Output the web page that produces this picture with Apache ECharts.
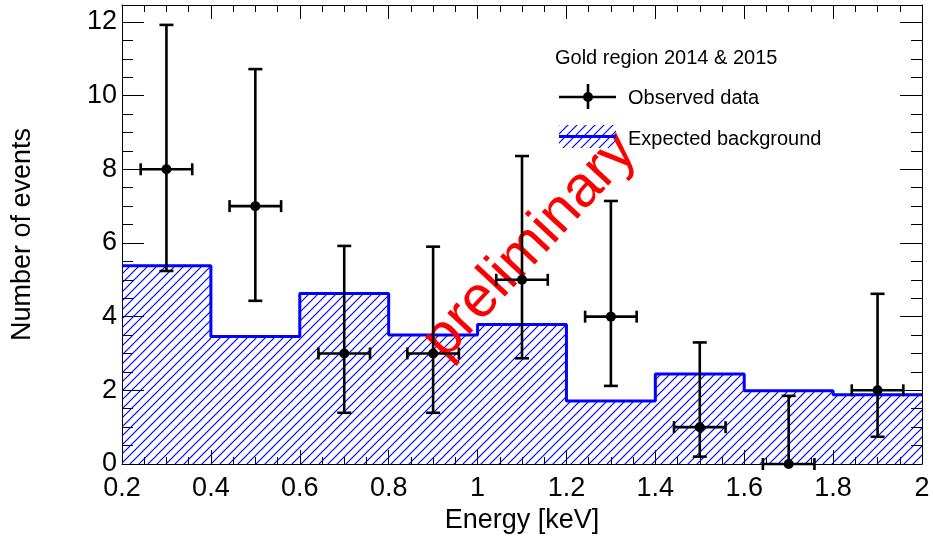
<!DOCTYPE html>
<html>
<head>
<meta charset="utf-8">
<script src="https://cdn.jsdelivr.net/npm/echarts@6/dist/echarts.min.js"></script>
<style>
html,body{margin:0;padding:0;background:#fff;}
#chart{width:933px;height:542px;}
</style>
</head>
<body>
<div id="chart"></div>
<script>
// ---- data ----
const binEdges = [0.2, 0.4, 0.6, 0.8, 1.0, 1.2, 1.4, 1.6, 1.8, 2.0];
const bgCounts = [5.38, 3.46, 4.63, 3.50, 3.79, 1.71, 2.44, 1.99, 1.88];
const obsEnergy = [0.3, 0.5, 0.7, 0.9, 1.1, 1.3, 1.5, 1.7, 1.9];
const obsCounts = [8, 7, 3, 3, 5, 4, 1, 0, 2];
const obsLower = [5.24, 4.43, 1.39, 1.39, 2.87, 2.12, 0.20, 0.00, 0.74];
const obsUpper = [11.92, 10.72, 5.92, 5.90, 8.36, 7.14, 3.30, 1.85, 4.62];
const energyHalfWidth = [0.058, 0.058, 0.058, 0.058, 0.058, 0.058, 0.058, 0.058, 0.058];
const xTitle = 'Energy [keV]';
const yTitle = 'Number of events';
const legendHeader = 'Gold region 2014 & 2015';
const obsName = 'Observed data';
const bgName = 'Expected background';
const watermark = 'preliminary';

const FONT = "'Liberation Sans', Arial, Helvetica, sans-serif";

function hatch() {
  const s = 9;
  const c = document.createElement('canvas');
  c.width = s; c.height = s;
  const g = c.getContext('2d');
  g.strokeStyle = '#0000ff';
  g.lineWidth = 1.2;
  g.beginPath();
  g.moveTo(-1, s + 1); g.lineTo(s + 1, -1);
  g.moveTo(-2, 2); g.lineTo(2, -2);
  g.moveTo(s - 2, s + 2); g.lineTo(s + 2, s - 2);
  g.stroke();
  return c;
}
const hatchPattern = { image: hatch(), repeat: 'repeat' };

const histData = bgCounts.map((c, i) => [binEdges[i], c]);
histData.push([binEdges[binEdges.length - 1], bgCounts[bgCounts.length - 1]]);

const obsData = obsEnergy.map((x, i) => [x, obsCounts[i], energyHalfWidth[i], obsLower[i], obsUpper[i]]);

const chart = echarts.init(document.getElementById('chart'), null, { renderer: 'canvas' });

const xAxisCommon = {
  type: 'value', min: 0.2, max: 2.0, interval: 0.2,
  axisLine: { show: true, onZero: false, lineStyle: { color: '#000', width: 1 } },
  axisTick: { show: true, inside: true, length: 14, lineStyle: { color: '#000', width: 1 } },
  minorTick: { show: true, splitNumber: 4, length: 7, lineStyle: { color: '#000', width: 1 } },
  splitLine: { show: false }
};
const yAxisCommon = {
  type: 'value', min: 0, max: 12.46, interval: 2,
  axisLine: { show: true, onZero: false, lineStyle: { color: '#000', width: 1 } },
  axisTick: { show: true, inside: true, length: 22, lineStyle: { color: '#000', width: 1 } },
  minorTick: { show: true, splitNumber: 4, length: 11, lineStyle: { color: '#000', width: 1 } },
  splitLine: { show: false }
};

const option = {
  animation: false,
  backgroundColor: '#fff',
  grid: { left: 122, right: 11, top: 5, bottom: 78, containLabel: false },
  xAxis: [
    Object.assign({}, xAxisCommon, {
      position: 'bottom',
      name: xTitle, nameLocation: 'middle', nameGap: 40,
      nameTextStyle: { fontFamily: FONT, fontSize: 27, color: '#000' },
      axisLabel: { show: true, margin: 11, fontFamily: FONT, fontSize: 27, color: '#000' }
    }),
    Object.assign({}, xAxisCommon, { position: 'top', axisLabel: { show: false } })
  ],
  yAxis: [
    Object.assign({}, yAxisCommon, {
      position: 'left',
      name: yTitle, nameLocation: 'middle', nameGap: 86,
      nameTextStyle: { fontFamily: FONT, fontSize: 27, color: '#000' },
      axisLabel: { show: true, margin: 5, fontFamily: FONT, fontSize: 27, color: '#000', showMaxLabel: false,
        formatter: v => (Math.abs(v / 2 - Math.round(v / 2)) < 1e-6 ? String(Math.round(v)) : '') }
    }),
    Object.assign({}, yAxisCommon, { position: 'right', axisLabel: { show: false } })
  ],
  series: [
    {
      name: bgName, type: 'line', step: 'end', data: histData,
      xAxisIndex: 0, yAxisIndex: 0, symbol: 'none', z: 2,
      lineStyle: { color: '#0000ff', width: 3 },
      areaStyle: { color: hatchPattern, opacity: 1, origin: 'start' }
    },
    {
      name: obsName, type: 'custom', data: obsData, xAxisIndex: 0, yAxisIndex: 0, z: 5,
      encode: { x: 0, y: 1 },
      renderItem: function (params, api) {
        const x = api.value(0), y = api.value(1), ex = api.value(2), lo = api.value(3), hi = api.value(4);
        const c = api.coord([x, y]);
        const pLo = api.coord([x, lo]);
        const pHi = api.coord([x, hi]);
        const pL = api.coord([x - ex, y]);
        const pR = api.coord([x + ex, y]);
        const st = { stroke: '#000', lineWidth: 2.6, fill: null };
        const capW = 7, capH = 6;
        const children = [
          { type: 'line', shape: { x1: c[0], y1: pLo[1], x2: c[0], y2: pHi[1] }, style: st },
          { type: 'line', shape: { x1: pL[0], y1: c[1], x2: pR[0], y2: c[1] }, style: st },
          { type: 'line', shape: { x1: pL[0], y1: c[1] - capH, x2: pL[0], y2: c[1] + capH }, style: st },
          { type: 'line', shape: { x1: pR[0], y1: c[1] - capH, x2: pR[0], y2: c[1] + capH }, style: st },
          { type: 'circle', shape: { cx: c[0], cy: c[1], r: 5 }, style: { fill: '#000' } }
        ];
        if (hi > y) children.push({ type: 'line', shape: { x1: c[0] - capW, y1: pHi[1], x2: c[0] + capW, y2: pHi[1] }, style: st });
        if (lo < y) children.push({ type: 'line', shape: { x1: c[0] - capW, y1: pLo[1], x2: c[0] + capW, y2: pLo[1] }, style: st });
        return { type: 'group', children: children };
      }
    }
  ],
  graphic: [
    { type: 'text', z: 3, x: 530, y: 246, rotation: 47 * Math.PI / 180,
      style: { text: watermark, fill: '#ff0000', font: '58px ' + FONT, textAlign: 'center', textVerticalAlign: 'middle' } },
    { type: 'text', z: 10, x: 555, y: 58,
      style: { text: legendHeader, fill: '#000', font: '20px ' + FONT, textAlign: 'left', textVerticalAlign: 'middle' } },
    { type: 'line', z: 10, shape: { x1: 559, y1: 97, x2: 616, y2: 97 }, style: { stroke: '#000', lineWidth: 2.6 } },
    { type: 'line', z: 10, shape: { x1: 588, y1: 84, x2: 588, y2: 109 }, style: { stroke: '#000', lineWidth: 2.6 } },
    { type: 'circle', z: 10, shape: { cx: 588, cy: 97, r: 5 }, style: { fill: '#000' } },
    { type: 'text', z: 10, x: 628, y: 98,
      style: { text: obsName, fill: '#000', font: '20px ' + FONT, textAlign: 'left', textVerticalAlign: 'middle' } },
    { type: 'rect', z: 2, shape: { x: 559, y: 125, width: 57, height: 23 }, style: { fill: hatchPattern, stroke: null } },
    { type: 'line', z: 10, shape: { x1: 559, y1: 136.5, x2: 616, y2: 136.5 }, style: { stroke: '#0000ff', lineWidth: 3 } },
    { type: 'text', z: 10, x: 628, y: 139,
      style: { text: bgName, fill: '#000', font: '20px ' + FONT, textAlign: 'left', textVerticalAlign: 'middle' } }
  ]
};
chart.setOption(option);
</script>
</body>
</html>
